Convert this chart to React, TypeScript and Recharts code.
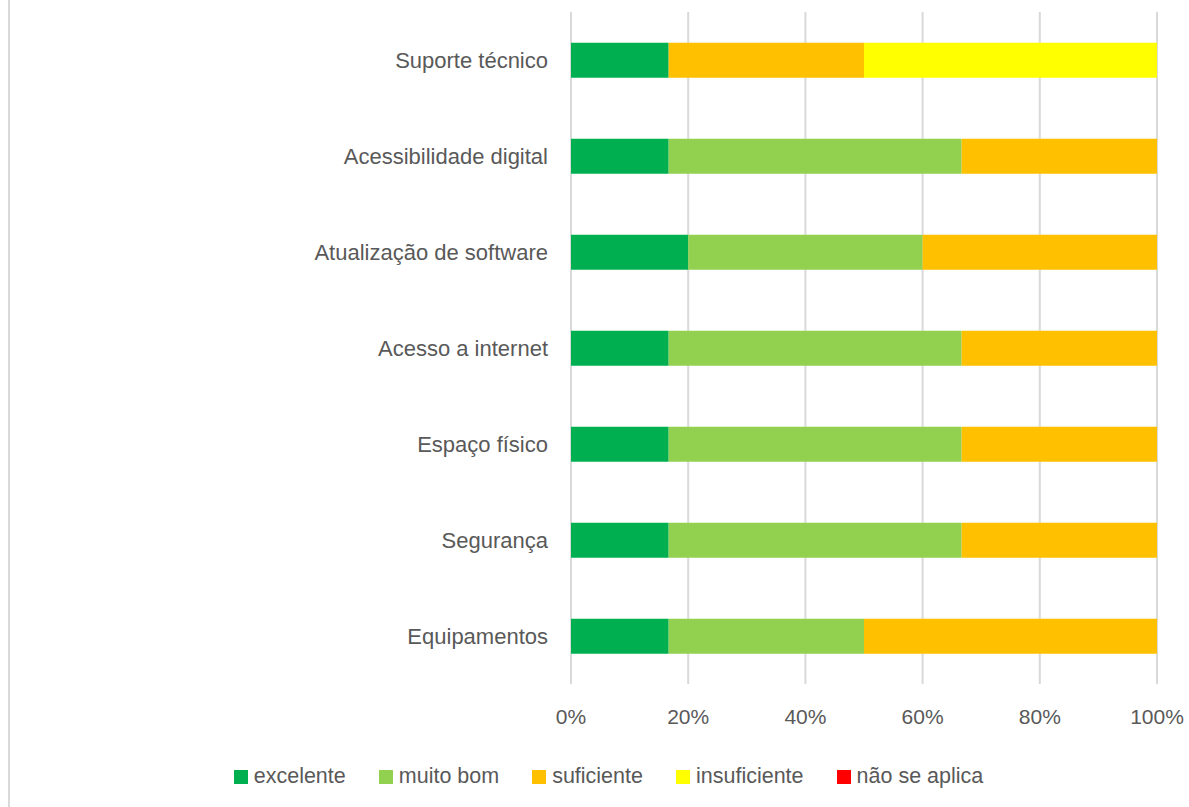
import React from "react";
import { BarChart, Bar, XAxis, YAxis, CartesianGrid, Legend } from "recharts";

const categories = [
  "Suporte técnico",
  "Acessibilidade digital",
  "Atualização de software",
  "Acesso a internet",
  "Espaço físico",
  "Segurança",
  "Equipamentos",
];

// respostas por categoria (contagens, mostradas como % do total)
const excelente = [1, 1, 1, 1, 1, 1, 1];
const muitoBom = [0, 3, 2, 3, 3, 3, 2];
const suficiente = [2, 2, 2, 2, 2, 2, 3];
const insuficiente = [3, 0, 0, 0, 0, 0, 0];
const naoSeAplica = [0, 0, 0, 0, 0, 0, 0];

const xTicks = [0, 0.2, 0.4, 0.6, 0.8, 1];

const series = [
  { key: "excelente", name: "excelente", color: "#00B050" },
  { key: "muitoBom", name: "muito bom", color: "#92D050" },
  { key: "suficiente", name: "suficiente", color: "#FFC000" },
  { key: "insuficiente", name: "insuficiente", color: "#FFFF00" },
  { key: "naoSeAplica", name: "não se aplica", color: "#FF0000" },
];

const data = categories.map((name, i) => ({
  name,
  excelente: excelente[i],
  muitoBom: muitoBom[i],
  suficiente: suficiente[i],
  insuficiente: insuficiente[i],
  naoSeAplica: naoSeAplica[i],
}));

const FONT = "'Liberation Sans', Arial, sans-serif";
const TEXT = "#595959";

const LegendBox = () => (
  <div
    style={{
      display: "flex",
      justifyContent: "center",
      paddingLeft: 60,
      paddingTop: 20,
      fontFamily: FONT,
      fontSize: 21.5,
      color: TEXT,
    }}
  >
    {series.map((s, i) => (
      <div
        key={s.key}
        style={{ display: "flex", alignItems: "center", marginRight: i === series.length - 1 ? 0 : 33 }}
      >
        <span style={{ width: 14, height: 14, background: s.color, marginRight: 6, display: "inline-block" }} />
        <span>{s.name}</span>
      </div>
    ))}
  </div>
);

export default function App() {
  return (
    <div style={{ position: "absolute", left: 0, top: 0, width: 1189, height: 807, background: "#fff" }}>
      <div style={{ position: "absolute", left: 8, top: 0, width: 2, height: 807, background: "#d9d9d9" }} />
      <BarChart
        width={1189}
        height={807}
        data={data}
        layout="vertical"
        stackOffset="expand"
        barCategoryGap="32%"
        margin={{ top: 12, right: 32, bottom: 0, left: 0 }}
      >
        <CartesianGrid horizontal={false} stroke="#d9d9d9" strokeWidth={2} />
        <XAxis
          type="number"
          domain={[0, 1]}
          ticks={xTicks}
          tickFormatter={(v: number) => `${Math.round(v * 100)}%`}
          axisLine={false}
          tickLine={false}
          tickMargin={19}
          height={60}
          tick={{ fontSize: 21, fill: TEXT, fontFamily: FONT }}
        />
        <YAxis
          type="category"
          dataKey="name"
          width={571}
          axisLine={false}
          tickLine={false}
          tickMargin={17}
          tick={{ fontSize: 22, fill: TEXT, fontFamily: FONT }}
        />
        {series.map((s) => (
          <Bar
            key={s.key}
            dataKey={s.key}
            name={s.name}
            stackId="a"
            fill={s.color}
            isAnimationActive={false}
          />
        ))}
        <Legend verticalAlign="bottom" height={63} content={<LegendBox />} />
      </BarChart>
    </div>
  );
}
